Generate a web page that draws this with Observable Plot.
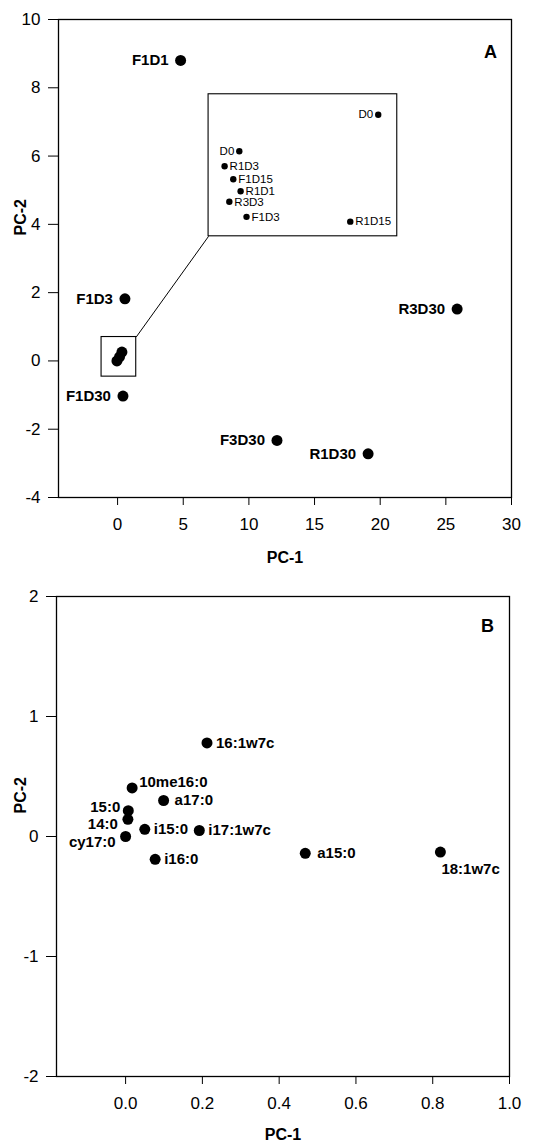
<!DOCTYPE html>
<html><head><meta charset="utf-8">
<script src="https://cdn.jsdelivr.net/npm/d3@7"></script>
<script src="https://cdn.jsdelivr.net/npm/@observablehq/plot@0.6"></script>
<style>
body{margin:0;background:#fff;}
#chart{width:547px;}
#chart svg{display:block;}
</style>
</head><body><div id="chart"></div>
<script>
// ---------- Panel A : samples ----------
const sampleNames = ["F1D1", "F1D3", "R3D30", "F1D30", "F3D30", "R1D30"];
const sampleX = [4.80, 0.56, 25.86, 0.41, 12.14, 19.08];
const sampleY = [8.80, 1.82, 1.52, -1.03, -2.33, -2.72];
// overlapping unlabelled samples near the origin
const clusterX = [-0.05, 0.15, 0.33];
const clusterY = [0.00, 0.12, 0.26];
// enlarged view of the cluster
const insetNames = ["D0", "D0", "R1D3", "F1D15", "R1D1", "R3D3", "F1D3", "R1D15"];
const insetX = [19.85, 9.27, 8.15, 8.81, 9.37, 8.51, 9.82, 17.72];
const insetY = [7.21, 6.14, 5.70, 5.32, 4.97, 4.66, 4.22, 4.08];
const zoomBoxX = [-1.22, 1.42];
const zoomBoxY = [-0.46, 0.70];
const insetBoxX = [6.93, 21.3];
const insetBoxY = [3.65, 7.81];
const xTicksA = [0, 5, 10, 15, 20, 25, 30];
const yTicksA = [-4, -2, 0, 2, 4, 6, 8, 10];

// ---------- Panel B : fatty acids ----------
const faNames = ["16:1w7c", "10me16:0", "a17:0", "15:0", "14:0", "cy17:0", "i15:0", "i17:1w7c", "i16:0", "a15:0", "18:1w7c"];
const faX = [0.212, 0.017, 0.099, 0.007, 0.006, 0.000, 0.050, 0.192, 0.077, 0.468, 0.820];
const faY = [0.78, 0.405, 0.30, 0.215, 0.143, 0.00, 0.06, 0.05, -0.19, -0.14, -0.13];
const xTicksB = [0.0, 0.2, 0.4, 0.6, 0.8, 1.0];
const yTicksB = [-2, -1, 0, 1, 2];

// label placement (style only): [anchor, dx, dy]
const faLabelPlace = {
  "16:1w7c": ["start", 9, 0], "10me16:0": ["start", 7, -6], "a17:0": ["start", 11, 0],
  "15:0": ["end", -8, -4], "14:0": ["end", -10, 5], "cy17:0": ["end", -10, 6],
  "i15:0": ["start", 9, 0], "i17:1w7c": ["start", 9, 0], "i16:0": ["start", 9, 0],
  "a15:0": ["start", 12, 0], "18:1w7c": ["start", 1, 17]
};

const font = "Arial, 'Liberation Sans', Helvetica, sans-serif";
const samples = sampleNames.map((n, i) => ({name: n, x: sampleX[i], y: sampleY[i]}));
const cluster = clusterX.map((x, i) => ({x, y: clusterY[i]}));
const inset = insetNames.map((n, i) => ({name: n, x: insetX[i], y: insetY[i]}));
const fas = faNames.map((n, i) => ({name: n, x: faX[i], y: faY[i]}));

function axes(xt, yt, fmtX) {
  return [
    Plot.axisX({ticks: xt, tickSize: 8, tickPadding: 12, fontSize: 17, label: null, tickFormat: fmtX}),
    Plot.axisY({ticks: yt, tickSize: 10, tickPadding: 8, fontSize: 17, label: null, tickFormat: d => d < 0 ? "-" + Math.abs(d) : String(d)})
  ];
}

const A = Plot.plot({
  width: 547, height: 575,
  marginTop: 19, marginBottom: 78, marginLeft: 58, marginRight: 36,
  style: {fontFamily: font, color: "#000", background: "#fff", overflow: "visible"},
  x: {domain: [-4.5, 30]},
  y: {domain: [-4, 10]},
  marks: [
    ...axes(xTicksA, yTicksA, d => String(d)),
    Plot.frame({stroke: "#000", strokeWidth: 1.3}),
    Plot.rect([0], {x1: () => zoomBoxX[0], x2: () => zoomBoxX[1], y1: () => zoomBoxY[0], y2: () => zoomBoxY[1], fill: "none", stroke: "#000", strokeWidth: 1.1}),
    Plot.rect([0], {x1: () => insetBoxX[0], x2: () => insetBoxX[1], y1: () => insetBoxY[0], y2: () => insetBoxY[1], fill: "none", stroke: "#000", strokeWidth: 1.1}),
    Plot.link([0], {x1: () => zoomBoxX[1], y1: () => zoomBoxY[1], x2: () => insetBoxX[0], y2: () => insetBoxY[0], stroke: "#000", strokeWidth: 1}),
    Plot.dot(cluster, {x: "x", y: "y", r: 5.5, fill: "#000", stroke: "none"}),
    Plot.dot(samples, {x: "x", y: "y", r: 5.5, fill: "#000", stroke: "none"}),
    Plot.text(samples, {x: "x", y: "y", text: "name", textAnchor: "end", dx: -12, fontSize: 15, fontWeight: "bold"}),
    Plot.dot(inset, {x: "x", y: "y", r: 3.2, fill: "#000", stroke: "none"}),
    Plot.text(inset.filter(d => d.name === "D0"), {x: "x", y: "y", text: "name", textAnchor: "end", dx: -5, fontSize: 11.5}),
    Plot.text(inset.filter(d => d.name !== "D0"), {x: "x", y: "y", text: "name", textAnchor: "start", dx: 5, fontSize: 11.5}),
    Plot.text(["A"], {frameAnchor: "top-right", text: d => d, dx: -21, dy: 26, textAnchor: "middle", fontSize: 18, fontWeight: "bold"}),
    Plot.text(["PC-1"], {frameAnchor: "bottom", text: d => d, dy: 65, fontSize: 16, fontWeight: "bold"}),
    Plot.text(["PC-2"], {frameAnchor: "left", text: d => d, dx: -38, dy: -23, rotate: -90, fontSize: 16, fontWeight: "bold"})
  ]
});

const B = Plot.plot({
  width: 547, height: 567,
  marginTop: 21, marginBottom: 66, marginLeft: 56, marginRight: 38,
  style: {fontFamily: font, color: "#000", background: "#fff", overflow: "visible"},
  x: {domain: [-0.18, 1.0]},
  y: {domain: [-2, 2]},
  marks: [
    ...axes(xTicksB, yTicksB, d => d.toFixed(1)),
    Plot.frame({stroke: "#000", strokeWidth: 1.3}),
    Plot.dot(fas, {x: "x", y: "y", r: 5.5, fill: "#000", stroke: "none"}),
    ...fas.map(d => Plot.text([d], {x: "x", y: "y", text: "name", textAnchor: faLabelPlace[d.name][0],
        dx: faLabelPlace[d.name][1], dy: faLabelPlace[d.name][2], fontSize: 15, fontWeight: "bold"})),
    Plot.text(["B"], {frameAnchor: "top-right", text: d => d, dx: -22, dy: 23, textAnchor: "middle", fontSize: 18, fontWeight: "bold"}),
    Plot.text(["PC-1"], {frameAnchor: "bottom", text: d => d, dy: 63, fontSize: 16, fontWeight: "bold"}),
    Plot.text(["PC-2"], {frameAnchor: "left", text: d => d, dx: -36, dy: -23, rotate: -90, fontSize: 16, fontWeight: "bold"})
  ]
});

document.getElementById("chart").append(A, B);
</script>
</body></html>
